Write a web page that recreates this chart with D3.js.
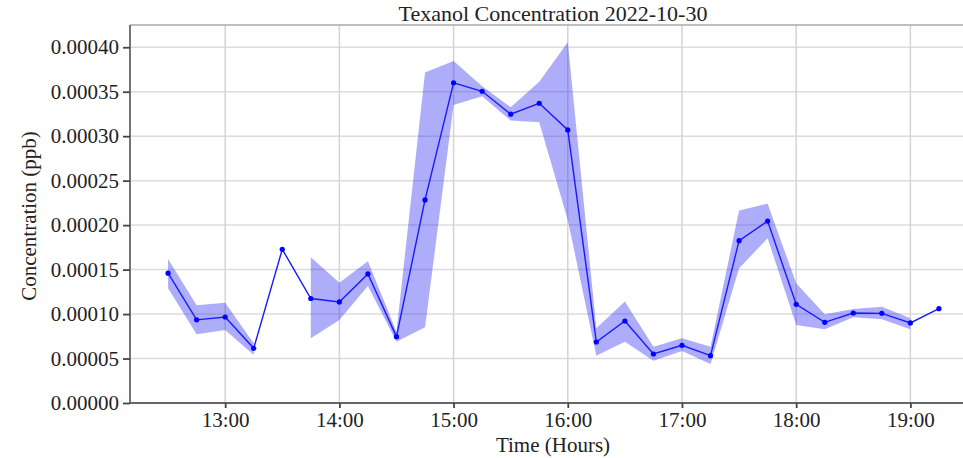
<!DOCTYPE html>
<html>
<head>
<meta charset="utf-8">
<script src="https://cdn.jsdelivr.net/npm/d3@7"></script>
<style>
  body { margin: 0; background: #fff; }
  svg text { font-family: "Liberation Serif", "Times New Roman", serif; fill: #222; }
</style>
</head>
<body>
<div id="chart"></div>
<script>
// sample times (hh:mm on 2022-10-30)
const times = ["12:30","12:45","13:00","13:15","13:30","13:45","14:00","14:15","14:30","14:45",
  "15:00","15:15","15:30","15:45","16:00","16:15","16:30","16:45","17:00","17:15",
  "17:30","17:45","18:00","18:15","18:30","18:45","19:00","19:15"];

// mean concentration (ppb)
const conc = [0.000146,0.0000935,0.0000967,0.0000615,0.0001728,0.0001175,0.0001136,0.0001451,0.0000746,0.0002283,
  0.000360,0.0003505,0.0003247,0.000337,0.000307,0.0000686,0.0000922,0.0000551,0.0000649,0.0000532,
  0.0001825,0.0002045,0.000111,0.0000907,0.0001012,0.0001008,0.00009,0.000106];

// shaded band edges (null = no band)
const upper = [0.000162,0.000110,0.0001128,0.0000671,null,0.0001638,0.0001353,0.0001594,0.000080,0.0003715,
  0.0003846,0.000356,0.0003325,0.0003613,0.0004056,0.000084,0.000114,0.0000633,0.0000727,0.0000633,
  0.0002163,0.0002241,0.0001346,0.0000997,0.0001057,0.0001083,0.0000952,null];
const lower = [0.000129,0.0000773,0.0000821,0.000054,null,0.0000728,0.0000933,0.0001316,0.000069,0.0000851,
  0.0003351,0.000345,0.0003175,0.0003157,0.0002058,0.0000532,0.0000689,0.0000476,0.0000585,0.0000439,
  0.0001515,0.0001852,0.0000877,0.0000829,0.0000964,0.0000941,0.0000829,null];

const yTicks = [0, 0.00005, 0.0001, 0.00015, 0.0002, 0.00025, 0.0003, 0.00035, 0.0004];
const xTicks = ["13:00","14:00","15:00","16:00","17:00","18:00","19:00"];

const parseT = d3.timeParse("%Y-%m-%d %H:%M");
const toDate = s => parseT("2022-10-30 " + s);

const data = times.map((t, i) => ({ t: toDate(t), v: conc[i], hi: upper[i], lo: lower[i] }));

const width = 963, height = 458;
const margin = { top: 25, right: -14, bottom: 55, left: 130 };

const svg = d3.select("#chart").append("svg")
  .attr("width", width)
  .attr("height", height);

const x = d3.scaleTime()
  .domain([toDate("12:10"), toDate("19:35")])
  .range([margin.left, width - margin.right]);

const y = d3.scaleLinear()
  .domain([0, 0.000425])
  .range([height - margin.bottom, margin.top]);

// grid
svg.append("g")
  .selectAll("line.hg")
  .data(yTicks)
  .enter().append("line")
  .attr("x1", margin.left).attr("x2", width - margin.right)
  .attr("y1", d => y(d)).attr("y2", d => y(d))
  .attr("stroke", "#dcdcdc").attr("stroke-width", 1.5);

svg.append("g")
  .selectAll("line.vg")
  .data(xTicks)
  .enter().append("line")
  .attr("x1", d => x(toDate(d))).attr("x2", d => x(toDate(d)))
  .attr("y1", margin.top).attr("y2", height - margin.bottom)
  .attr("stroke", "#d4d4d4").attr("stroke-width", 1.5);

// top frame line
svg.append("line")
  .attr("x1", margin.left).attr("x2", width)
  .attr("y1", margin.top).attr("y2", margin.top)
  .attr("stroke", "#aaa").attr("stroke-width", 1.5);

// band
const area = d3.area()
  .defined(d => d.hi != null && d.lo != null)
  .x(d => x(d.t))
  .y0(d => y(d.lo))
  .y1(d => y(d.hi));

svg.append("path")
  .datum(data)
  .attr("fill", "rgba(40,40,240,0.38)")
  .attr("d", area);

// line
const line = d3.line()
  .x(d => x(d.t))
  .y(d => y(d.v));

svg.append("path")
  .datum(data)
  .attr("fill", "none")
  .attr("stroke", "#1a1aff")
  .attr("stroke-width", 1.4)
  .attr("d", line);

svg.append("g")
  .selectAll("circle")
  .data(data)
  .enter().append("circle")
  .attr("cx", d => x(d.t))
  .attr("cy", d => y(d.v))
  .attr("r", 2.6)
  .attr("fill", "#0000ff");

// axes
const yAxis = d3.axisLeft(y)
  .tickValues(yTicks)
  .tickFormat(d3.format(".5f"))
  .tickSize(7)
  .tickPadding(4);

const gy = svg.append("g")
  .attr("transform", `translate(${margin.left},0)`)
  .call(yAxis);
gy.select(".domain").attr("stroke", "#666").attr("stroke-width", 1.8)
  .attr("d", `M0,${margin.top}V${height - margin.bottom}`);
gy.selectAll(".tick line").attr("stroke", "#444").attr("stroke-width", 1.8);
gy.selectAll("text").attr("font-size", 21).attr("fill", "#222");

const xAxis = d3.axisBottom(x)
  .tickValues(xTicks.map(toDate))
  .tickFormat(d3.timeFormat("%H:%M"))
  .tickSize(5)
  .tickPadding(4);

const gx = svg.append("g")
  .attr("transform", `translate(0,${height - margin.bottom})`)
  .call(xAxis);
gx.select(".domain").attr("stroke", "#666").attr("stroke-width", 1.8)
  .attr("d", `M${margin.left},0H${width}`);
gx.selectAll(".tick line").attr("stroke", "#444").attr("stroke-width", 1.8);
gx.selectAll("text").attr("font-size", 21).attr("fill", "#222");

// titles
svg.append("text")
  .attr("x", 553).attr("y", 21)
  .attr("text-anchor", "middle")
  .attr("font-size", 22)
  .text("Texanol Concentration 2022-10-30");

svg.append("text")
  .attr("x", 553).attr("y", 452)
  .attr("text-anchor", "middle")
  .attr("font-size", 21)
  .text("Time (Hours)");

svg.append("text")
  .attr("transform", "rotate(-90)")
  .attr("x", -216).attr("y", 36)
  .attr("text-anchor", "middle")
  .attr("font-size", 21)
  .text("Concentration (ppb)");
</script>
</body>
</html>
